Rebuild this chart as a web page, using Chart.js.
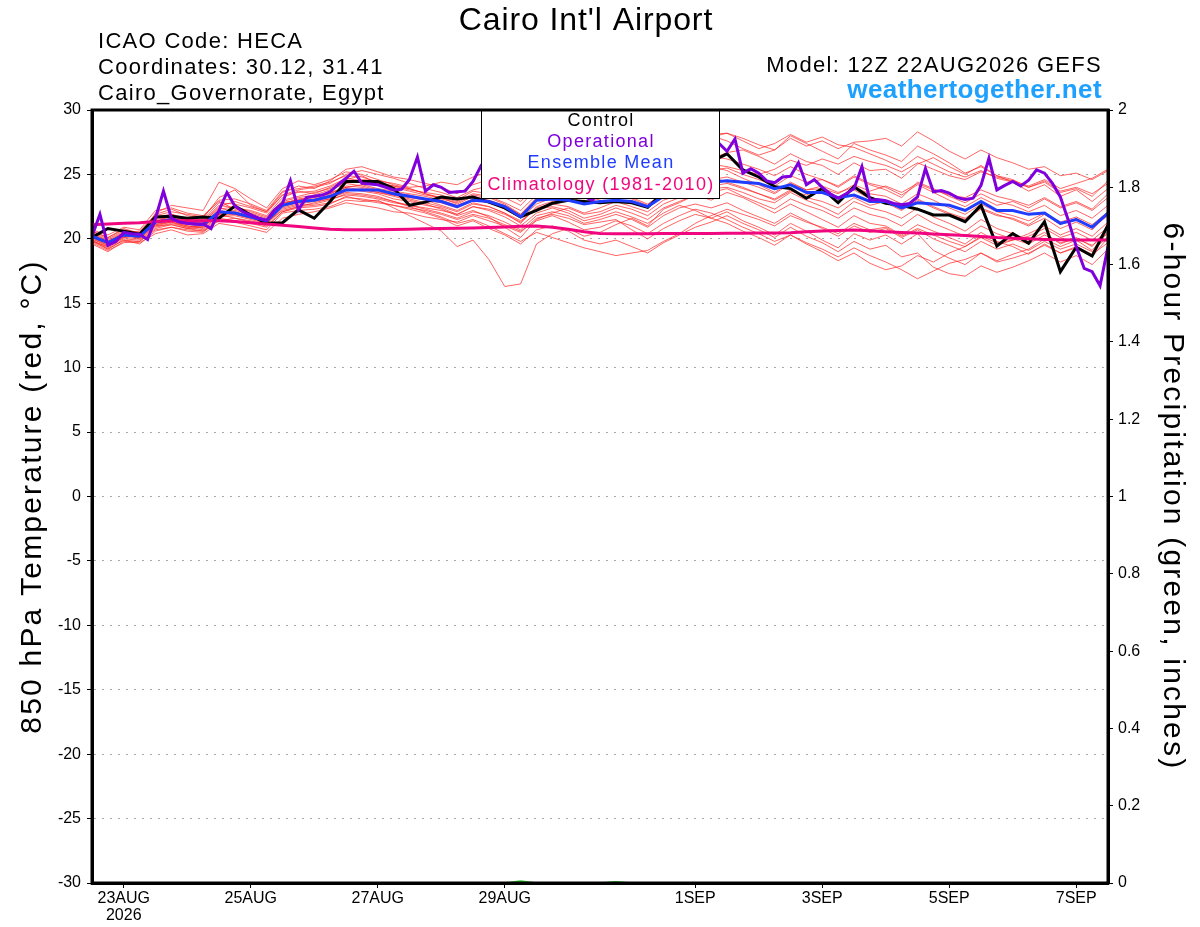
<!DOCTYPE html>
<html>
<head>
<meta charset="utf-8">
<title>Cairo Int'l Airport - GEFS 850 hPa temperature</title>
<script src="https://cdn.jsdelivr.net/npm/chart.js"></script>
<style>
  html, body { margin: 0; padding: 0; background: #fff; }
  #chart { display: block; }
</style>
</head>
<body>
<canvas id="chart" width="1200" height="927"></canvas>
<script>
// forecast hours counted from 12Z 22AUG2026
const tickHours = [12, 60, 108, 156, 228, 276, 324, 372];
const tickLabels = ['23AUG\n2026', '25AUG', '27AUG', '29AUG', '1SEP', '3SEP', '5SEP', '7SEP'];

// 6-hourly series (65 values)
const control = [20.1,20.8,20.6,20.35,21.7,21.75,21.6,21.7,21.6,22.55,
  21.85,21.2,21.25,22.25,21.6,22.9,24.45,24.45,24.45,23.9,
  22.6,22.85,23.25,23.1,23.25,22.85,22.4,21.7,22.2,22.76,
  23.0,22.9,22.8,22.9,22.8,22.45,23.6,24.5,25.4,26.0,
  26.6,25.35,24.8,24.05,23.9,23.15,23.9,22.8,24.05,23.2,
  22.76,22.6,22.3,21.85,21.85,21.33,22.6,19.44,20.4,19.65,
  21.33,17.45,19.35,18.67,21.07];

const ensembleMean = [20.2,19.7,20.3,20.2,21.3,21.5,21.2,21.1,22.1,22.0,
  21.7,21.4,22.6,22.9,23.0,23.3,23.8,23.8,23.8,23.5,
  23.3,23.1,22.9,22.5,23.0,22.9,22.5,21.7,23.0,23.1,
  23.0,22.7,22.9,23.0,22.9,22.5,23.3,23.8,24.2,24.4,
  24.5,24.4,24.3,23.9,24.2,23.6,23.6,23.2,23.4,22.9,
  22.9,22.4,22.8,22.7,22.6,22.2,22.9,22.2,22.2,21.9,
  22.0,21.2,21.5,20.9,22.0];

const climatology = [21.1,21.15,21.2,21.25,21.35,21.4,21.4,21.4,21.4,21.35,
  21.25,21.15,21.05,20.95,20.85,20.75,20.7,20.7,20.7,20.72,
  20.75,20.78,20.8,20.82,20.85,20.88,20.92,20.98,21.0,20.9,
  20.75,20.55,20.42,20.4,20.4,20.4,20.42,20.42,20.42,20.42,
  20.43,20.44,20.45,20.46,20.48,20.55,20.6,20.65,20.68,20.62,
  20.55,20.5,20.45,20.38,20.32,20.25,20.18,20.1,20.05,20.0,
  19.95,19.92,19.9,19.9,19.9];

const precip = [0,0,0,0,0,0,0,0,0,0, 0,0,0,0,0,0,0,0,0,0,
  0,0,0,0,0,0,0,0.005,0,0, 0,0,0,0.003,0,0,0,0,0,0,
  0,0,0,0,0,0,0,0,0,0, 0,0,0,0,0,0,0,0,0,0, 0,0,0,0,0];

// 3-hourly operational run (129 values)
const operational = [20.2,21.9,19.5,19.8,20.5,20.4,20.35,19.95,21.6,23.7,
  21.6,21.3,21.2,21.15,21.15,20.8,22.2,23.6,22.55,22.1,
  21.85,21.6,21.45,22.25,22.75,24.5,22.25,23.2,23.3,23.4,
  23.65,24.2,24.7,25.25,24.3,24.25,24.2,24.0,23.8,23.85,
  24.6,26.35,23.7,24.2,24.0,23.6,23.65,23.7,24.45,25.65,
  25.0,24.2,24.0,23.8,23.9,24.5,25.0,26.0,24.0,23.8,
  23.6,23.5,23.3,23.0,23.6,25.5,24.3,24.0,24.2,24.6,
  24.8,25.5,26.2,27.5,26.0,26.2,26.5,26.8,27.2,27.4,
  26.8,27.75,25.1,25.45,25.1,24.5,24.35,24.8,24.85,25.9,
  24.2,24.6,24.0,23.5,23.15,23.5,23.9,25.6,23.0,23.05,
  22.95,22.75,22.65,22.75,23.25,25.45,23.65,23.75,23.55,23.2,
  23.05,23.15,24.15,26.25,23.8,24.15,24.45,24.1,24.55,25.35,
  25.1,24.3,23.25,21.45,19.4,17.7,17.45,16.35,19.4];

// ensemble members, 6-hourly
const member01 = [20.4,19.9,20.5,20.6,21.9,22.3,21.8,21.6,23.2,23.8, 22.6,22.1,23.6,24.1,23.9,24.5,25.4,25.6,25.2,24.8,
  24.6,24.3,24.0,23.5,24.2,24.6,23.9,23.1,24.4,25.0, 25.3,24.8,25.2,25.9,26.3,25.7,26.4,27.1,27.6,27.9,
  28.2,27.8,27.3,26.9,28.0,27.4,26.8,26.2,27.4,26.9, 26.5,26.0,27.2,26.6,25.9,25.1,25.6,24.9,24.6,24.0, 24.4,23.6,23.9,23.3,24.5];
const member02 = [19.8,19.2,19.9,19.6,20.6,20.9,20.6,20.5,21.5,21.3, 21.0,20.7,22.0,22.2,22.3,22.5,23.0,22.9,23.0,22.4,
  21.8,21.2,20.6,19.4,19.9,18.4,16.3,16.5,19.6,20.4, 20.8,20.2,20.5,21.1,21.6,21.0,22.3,22.8,23.4,23.0,
  23.6,23.2,22.6,22.0,22.7,22.1,21.5,20.9,21.8,21.2, 21.0,20.3,21.1,20.6,20.1,19.6,20.5,19.8,19.4,18.8, 19.6,18.9,19.3,18.6,20.1];
const member03 = [20.6,20.1,20.8,20.4,21.7,21.9,21.5,21.4,22.6,22.4, 22.2,21.8,23.2,23.7,23.5,24.0,24.6,24.9,24.3,24.1,
  23.8,23.6,23.4,23.0,23.7,23.5,23.2,22.6,23.9,24.3, 24.1,23.6,24.0,24.4,24.0,23.5,24.6,25.3,25.8,26.2,
  26.7,26.9,26.4,25.8,26.6,26.0,25.7,25.0,25.9,25.3, 25.4,24.7,25.8,26.3,25.6,25.0,25.7,24.9,24.4,23.7, 24.2,23.3,23.8,22.9,23.9];
const member04 = [19.6,19.0,19.8,19.7,20.4,20.7,20.3,20.4,21.2,21.0, 20.8,20.5,21.6,21.9,22.1,22.4,22.8,22.6,22.4,22.1,
  22.0,21.7,21.5,21.3,21.8,21.4,21.0,20.5,21.6,21.9, 21.6,21.1,21.3,21.5,20.7,20.0,20.8,21.4,21.9,21.6,
  22.1,21.4,20.9,20.3,21.2,20.6,19.9,19.3,20.4,19.9, 20.3,19.6,20.4,19.1,18.5,18.0,18.9,18.3,18.8,19.2, 20.0,19.4,19.9,19.1,20.6];
const member05 = [20.3,19.6,20.4,20.1,22.0,22.6,22.4,22.2,24.4,23.9, 23.1,22.4,23.9,24.5,24.2,24.6,25.2,25.0,24.6,24.2,
  23.9,23.5,23.1,22.8,23.4,23.2,22.7,21.9,23.1,23.5, 23.3,22.8,23.3,23.6,23.2,22.7,23.5,24.1,24.8,25.3,
  25.5,25.0,24.6,24.1,24.9,24.4,24.6,24.0,24.8,24.2, 23.8,23.2,24.4,23.9,23.3,22.8,23.5,22.9,22.6,22.1, 22.6,21.8,22.2,21.6,22.6];
const member06 = [20.0,19.4,20.1,20.0,21.0,21.3,21.0,20.8,21.8,21.9, 21.6,21.2,22.4,22.7,22.9,23.1,23.7,23.9,23.6,23.3,
  23.0,22.7,22.3,21.8,22.2,21.7,20.9,20.1,21.5,22.0, 22.4,21.9,22.1,22.6,22.3,21.8,22.7,23.2,23.6,23.9,
  24.0,23.6,23.1,22.8,23.6,23.0,22.5,21.9,22.9,22.4, 22.1,21.6,22.4,21.7,21.2,20.6,21.5,20.8,20.4,19.9, 20.5,19.6,20.1,19.4,20.9];
const member07 = [20.1,19.5,20.2,20.3,21.4,21.6,21.3,21.2,22.3,22.5, 22.1,21.7,23.0,23.3,23.6,23.9,24.4,24.6,24.5,24.3,
  24.0,24.1,24.4,24.2,24.8,25.2,25.0,24.3,25.1,25.6, 25.9,26.2,26.6,27.0,27.2,26.8,27.4,27.7,27.9,28.0,
  27.6,27.0,26.5,26.9,27.8,27.2,27.6,27.0,27.5,27.6, 27.8,27.2,28.3,27.6,26.8,26.2,26.9,26.3,25.9,25.4, 25.6,24.9,25.1,24.6,25.3];
const member08 = [19.7,19.1,19.7,19.8,20.8,21.1,20.8,20.6,21.4,21.6, 21.3,21.0,22.1,22.5,22.6,22.8,23.2,23.1,22.9,22.6,
  22.3,22.0,21.6,21.0,21.4,20.8,20.3,19.6,20.7,21.0, 20.6,19.9,19.6,19.9,19.4,18.9,19.7,20.3,20.9,21.3,
  21.8,21.2,20.7,20.1,20.9,20.2,19.7,19.0,19.8,19.2, 19.5,18.6,18.9,17.8,17.3,17.1,17.9,17.4,17.8,18.3, 18.9,18.2,18.7,18.0,19.2];
const member09 = [20.5,20.0,20.6,20.2,21.2,21.4,21.0,20.9,22.0,22.2, 21.9,21.5,22.8,23.0,23.3,23.6,24.0,24.2,23.9,23.7,
  23.5,23.3,23.0,22.6,23.1,22.9,22.3,21.6,22.7,23.2, 23.5,23.1,23.6,24.1,23.8,23.3,24.2,24.9,25.3,25.6,
  25.3,24.7,24.2,23.6,24.4,23.8,23.9,23.2,23.8,23.1, 22.8,22.2,23.0,22.4,21.9,21.5,22.3,21.8,21.6,21.1, 21.9,21.1,21.6,20.9,21.8];
const member10 = [20.2,19.7,20.3,20.5,21.6,21.9,21.6,21.5,22.8,22.7, 22.4,22.0,23.4,23.8,24.0,24.3,25.0,25.3,25.0,24.7,
  24.3,23.9,23.6,23.2,23.8,24.1,23.7,22.9,24.1,24.6, 24.9,25.3,25.6,26.2,26.7,26.4,27.0,27.5,27.8,28.1,
  28.2,27.6,27.0,27.4,28.1,27.5,27.9,27.3,27.1,26.6, 26.1,25.5,26.4,25.8,25.2,24.8,25.3,24.7,24.4,24.0, 24.5,23.7,24.0,23.5,24.3];
const member11 = [19.9,19.3,20.0,19.9,20.9,21.2,20.9,21.0,21.9,21.6, 21.4,21.1,22.3,22.6,22.7,23.0,23.5,23.4,23.2,22.9,
  22.6,22.4,22.2,21.9,22.5,22.3,21.9,21.3,22.4,22.7, 22.5,22.0,22.4,22.9,22.5,22.1,23.0,23.4,23.8,24.1,
  24.3,23.9,23.5,23.1,23.8,23.2,22.9,22.4,23.2,22.6, 22.9,22.3,23.1,22.5,22.0,21.6,22.4,21.9,21.5,21.0, 21.6,20.8,21.3,20.7,21.9];
const member12 = [20.4,19.8,20.4,20.0,21.1,21.3,20.9,20.7,21.7,21.8, 21.5,21.2,22.5,22.8,23.0,23.2,23.6,23.5,23.3,22.9,
  22.5,22.1,21.7,21.2,21.5,21.0,20.4,19.8,20.5,20.1, 19.7,19.3,19.0,18.7,18.9,19.1,19.8,20.4,21.2,21.8,
  22.3,21.9,21.5,21.0,21.8,21.3,20.9,20.4,21.2,20.7, 20.9,20.2,20.8,20.3,19.8,19.4,20.2,19.7,19.9,20.2, 20.8,20.1,20.5,19.9,20.9];
const member13 = [20.7,20.3,20.9,20.7,22.2,22.4,22.0,21.8,22.9,22.3, 22.0,21.6,22.9,23.2,23.4,23.8,24.3,24.1,23.8,23.6,
  23.4,23.0,22.8,22.4,23.0,22.8,22.4,21.8,23.0,23.4, 23.7,23.4,23.9,24.4,24.8,24.3,25.0,25.6,26.1,26.4,
  26.2,25.8,25.4,24.9,25.6,25.0,24.6,24.1,24.9,24.3, 24.0,23.4,24.2,23.6,23.0,22.5,23.2,22.6,22.9,22.4, 23.1,22.4,22.8,22.2,23.2];
const member14 = [19.9,19.2,19.9,19.8,20.7,20.9,20.7,20.6,21.6,21.4, 21.2,20.9,22.1,22.4,22.5,22.7,23.3,23.0,22.8,22.6,
  22.4,22.2,21.9,21.5,21.9,21.6,21.1,20.6,21.4,21.8, 21.3,20.7,20.9,21.4,21.0,20.4,21.2,21.8,22.3,22.0,
  21.5,20.9,20.4,19.8,20.3,19.7,19.2,18.6,19.3,18.7, 18.2,17.6,16.9,17.5,18.1,18.4,18.9,18.2,18.5,18.9, 19.5,18.9,19.4,18.8,19.7];
const member15 = [20.1,19.6,20.3,20.1,21.5,21.7,21.4,21.3,22.4,22.1, 21.8,21.4,22.7,23.1,23.2,23.5,24.1,24.0,23.7,23.4,
  23.2,23.0,22.6,22.2,22.8,22.5,22.0,21.4,22.3,22.5, 22.2,21.6,21.9,22.4,22.0,21.5,22.4,22.9,23.4,23.6,
  23.9,23.3,22.8,22.3,23.1,22.6,22.2,21.6,22.4,21.9, 21.6,21.0,21.9,21.2,20.7,20.2,21.0,20.4,20.0,19.6, 20.3,19.7,20.0,19.5,20.4];
const member16 = [20.3,19.7,20.5,20.4,21.3,21.8,21.5,21.3,22.5,22.9, 22.5,22.1,23.4,23.6,23.7,24.1,24.7,24.5,24.3,24.0,
  23.7,23.4,23.2,22.9,23.5,23.3,22.8,22.2,23.4,23.9, 24.3,23.9,24.3,24.7,24.4,23.9,24.7,25.2,25.5,25.8,
  25.6,25.3,25.0,25.4,26.1,25.7,26.2,25.8,26.4,26.0, 25.7,25.2,25.9,25.4,24.9,24.6,25.2,24.8,24.5,24.1, 24.6,23.9,24.3,24.7,25.4];
const member17 = [19.8,19.4,20.1,20.3,21.0,21.1,20.8,20.9,21.9,22.0, 21.7,21.3,22.2,22.5,22.8,23.1,23.4,23.3,23.1,22.8,
  22.6,22.3,22.0,21.6,22.1,21.8,21.3,20.7,21.8,22.1, 21.8,21.2,21.5,21.9,21.5,20.9,21.8,22.4,22.7,22.4,
  22.8,22.2,21.7,21.2,22.0,21.4,20.8,20.2,21.0,20.5, 20.8,20.1,20.7,20.0,19.5,19.0,19.8,19.2,19.6,19.1, 19.8,19.2,19.6,19.0,20.2];
const member18 = [20.6,20.1,20.7,20.5,21.8,22.1,21.9,21.7,23.0,23.1, 22.7,22.2,23.7,23.9,24.1,24.4,24.9,24.8,24.4,24.1,
  23.9,23.5,23.2,22.7,23.3,23.0,22.6,21.9,23.2,23.7, 23.9,23.5,24.0,24.3,23.9,23.4,24.3,24.8,25.0,24.8,
  24.4,24.0,23.5,23.0,23.7,23.4,23.9,23.5,24.2,23.7, 24.1,23.6,24.3,23.8,23.4,23.2,23.8,23.3,23.0,22.6, 23.2,22.5,22.9,22.3,23.5];
const member19 = [20.0,19.5,20.2,20.1,21.1,21.4,21.1,21.0,22.0,21.9, 21.6,21.3,22.6,23.0,23.1,23.4,23.9,23.7,23.5,23.1,
  22.9,22.6,22.4,21.9,22.5,22.2,21.7,21.0,22.0,22.4, 22.0,21.4,21.7,22.1,21.7,21.2,22.0,22.6,22.2,21.6,
  21.2,20.6,20.1,19.5,20.3,19.6,19.0,18.3,18.9,18.1, 17.6,17.9,18.7,18.2,18.9,19.4,20.1,19.5,19.9,20.4, 21.0,20.3,20.8,20.2,21.3];
const member20 = [20.2,19.8,20.4,20.2,21.3,21.6,21.3,21.2,22.2,22.0, 21.8,21.5,22.8,23.0,23.3,23.5,24.0,23.8,23.6,23.4,
  23.1,22.8,22.5,22.1,22.7,22.5,22.0,21.2,22.5,22.9, 23.1,22.8,23.1,23.4,23.1,22.6,23.3,23.9,24.3,24.6,
  24.8,24.4,24.0,23.5,24.3,23.8,24.1,23.6,24.0,23.5, 23.3,22.7,23.5,23.0,22.4,21.9,22.7,22.1,21.8,21.4, 22.0,21.3,21.7,21.1,22.1];
const members = [member01, member02, member03, member04, member05, member06, member07, member08, member09, member10,
  member11, member12, member13, member14, member15, member16, member17, member18, member19, member20];

const legendItems = ['Control', 'Operational', 'Ensemble Mean', 'Climatology (1981-2010)'];

const FONT = '"Liberation Sans", Arial, Helvetica, sans-serif';
const COL_OPER = '#7f00dc';
const COL_MEAN = '#1f3cff';
const COL_CLIM = '#f0067f';
const legendColors = ['#000000', COL_OPER, COL_MEAN, COL_CLIM];

function toPoints(values, stepHours) {
  return values.map((v, i) => ({ x: i * stepHours, y: v }));
}

function line(label, values, step, color, width, order, axis) {
  return {
    label: label,
    data: toPoints(values, step),
    borderColor: color,
    borderWidth: width,
    pointRadius: 0,
    tension: 0,
    fill: false,
    order: order,
    yAxisID: axis || 'y'
  };
}

const datasets = [];
datasets.push(line('Operational', operational, 3, COL_OPER, 3, 0));
datasets.push(line('Climatology (1981-2010)', climatology, 6, COL_CLIM, 3, 1));
datasets.push(line('Ensemble Mean', ensembleMean, 6, COL_MEAN, 3, 2));
datasets.push(line('Control', control, 6, '#000000', 3, 3));
members.forEach((m, k) => {
  datasets.push(line('member ' + (k + 1), m, 6, 'rgba(255,35,35,0.7)', 1, 10));
});
datasets.push(line('6-hour precipitation', precip, 6, '#2ecc2e', 1.5, 20, 'y2'));

// text, legend box and frame around the plot
const decorations = {
  id: 'decorations',
  afterDatasetsDraw(chart) {
    const ctx = chart.ctx;
    ctx.save();
    ctx.fillStyle = '#ffffff';
    ctx.fillRect(481, 109, 238, 89);
    ctx.strokeStyle = '#000000';
    ctx.lineWidth = 1;
    ctx.strokeRect(481.5, 109.5, 238, 89);
    ctx.font = '18px ' + FONT;
    ctx.letterSpacing = '1.3px';
    ctx.textAlign = 'center';
    ctx.textBaseline = 'middle';
    const ys = [121, 142, 163, 185];
    legendItems.forEach((t, k) => {
      ctx.fillStyle = legendColors[k];
      ctx.fillText(t, 601, ys[k]);
    });
    ctx.restore();
  },
  afterDraw(chart) {
    const ctx = chart.ctx;
    const a = chart.chartArea;
    ctx.save();
    // frame
    ctx.strokeStyle = '#000';
    ctx.lineWidth = 3;
    ctx.strokeRect(a.left, a.top, a.right - a.left, a.bottom - a.top);

    ctx.fillStyle = '#000';
    ctx.textBaseline = 'alphabetic';
    ctx.textAlign = 'center';
    ctx.font = '32px ' + FONT;
    ctx.letterSpacing = '0.9px';
    ctx.fillText("Cairo Int'l Airport", 586, 30);

    ctx.font = '22px ' + FONT;
    ctx.letterSpacing = '1.3px';
    ctx.textAlign = 'left';
    ctx.fillText('ICAO Code: HECA', 98, 48);
    ctx.fillText('Coordinates: 30.12, 31.41', 98, 74);
    ctx.fillText('Cairo_Governorate, Egypt', 98, 100);

    ctx.textAlign = 'right';
    ctx.fillText('Model: 12Z 22AUG2026 GEFS', 1102, 72);
    ctx.font = 'bold 26px ' + FONT;
    ctx.letterSpacing = '0.4px';
    ctx.fillStyle = '#1ea0ff';
    ctx.fillText('weathertogether.net', 1102, 98);

    // axis titles
    ctx.fillStyle = '#000';
    ctx.font = '30px ' + FONT;
    ctx.letterSpacing = '2.2px';
    ctx.textAlign = 'center';
    ctx.textBaseline = 'middle';
    const midY = (a.top + a.bottom) / 2;
    ctx.save();
    ctx.translate(33, midY);
    ctx.rotate(-Math.PI / 2);
    ctx.fillText('850 hPa Temperature (red, \u00B0C)', 0, 0);
    ctx.restore();
    ctx.save();
    ctx.translate(1172, midY);
    ctx.rotate(Math.PI / 2);
    ctx.fillText('6-hour Precipitation (green, inches)', 0, 0);
    ctx.restore();
    ctx.restore();
  }
};

Chart.defaults.font.family = FONT;
Chart.defaults.color = '#000';

new Chart(document.getElementById('chart').getContext('2d'), {
  type: 'line',
  data: { datasets: datasets },
  options: {
    responsive: false,
    devicePixelRatio: 1,
    animation: false,
    layout: { padding: { top: 110, left: 0, right: 0, bottom: 0 } },
    plugins: { legend: { display: false }, tooltip: { enabled: false } },
    scales: {
      x: {
        type: 'linear',
        min: 0,
        max: 384,
        afterBuildTicks: s => { s.ticks = tickHours.map(v => ({ value: v })); },
        afterFit: s => { s.height = 44; },
        ticks: {
          autoSkip: false,
          maxRotation: 0,
          padding: 2,
          font: { size: 16, lineHeight: '17px' },
          color: '#000',
          callback: v => {
            const k = tickHours.indexOf(v);
            return k < 0 ? '' : tickLabels[k].split('\n');
          }
        },
        grid: { display: true, drawOnChartArea: false, tickLength: 5, color: '#000' },
        border: { display: true, width: 3, color: '#000' }
      },
      y: {
        position: 'left',
        min: -30,
        max: 30,
        afterFit: s => { s.width = 92; },
        ticks: { stepSize: 5, padding: 6, font: { size: 16 }, color: '#000' },
        grid: { color: '#a8a8a8', lineWidth: 1, tickLength: 5, tickColor: '#000' },
        border: { display: true, width: 3, color: '#000', dash: [2, 6] }
      },
      y2: {
        position: 'right',
        min: 0,
        max: 2,
        afterFit: s => { s.width = 92; },
        ticks: {
          stepSize: 0.2,
          padding: 5,
          font: { size: 16 },
          color: '#000',
          callback: v => String(+(+v).toFixed(1))
        },
        grid: { drawOnChartArea: false, tickLength: 5, color: '#000' },
        border: { display: true, width: 3, color: '#000' }
      }
    }
  },
  plugins: [decorations]
});
</script>
</body>
</html>
